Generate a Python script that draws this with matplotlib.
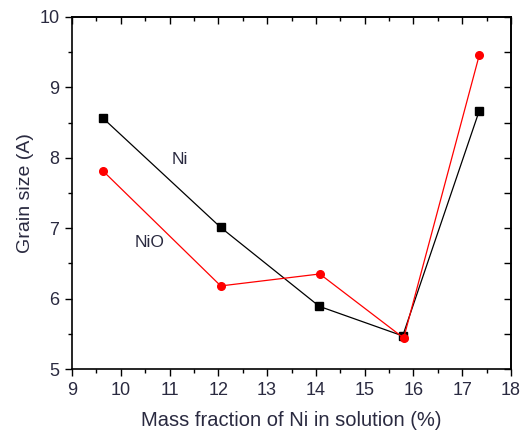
import matplotlib.pyplot as plt
from matplotlib.ticker import MultipleLocator

plt.rcParams['font.family'] = ['Liberation Sans', 'DejaVu Sans']

# data
x_ni = [9.64, 12.05, 14.07, 15.78, 17.35]
y_ni = [8.56, 7.01, 5.89, 5.47, 8.67]
x_nio = [9.64, 12.05, 14.08, 15.80, 17.35]
y_nio = [7.81, 6.18, 6.35, 5.44, 9.46]

txt = '#2a2a40'

fig = plt.figure(figsize=(5.22, 4.36), dpi=100)
ax = fig.add_axes([72/522, 1-369/436, (511-72)/522, (369-17)/436])

ax.plot(x_ni, y_ni, '-s', color='black', lw=0.9, ms=5.5, mfc='black', mec='black', zorder=2)
ax.plot(x_nio, y_nio, '-o', color='red', lw=0.9, ms=5.5, mfc='red', mec='red', zorder=3)

ax.text(11.21, 7.97, 'Ni', fontsize=12.5, color=txt, ha='center', va='center')
ax.text(10.6, 6.80, 'NiO', fontsize=12.5, color=txt, ha='center', va='center')

ax.set_xlim(9, 18)
ax.set_ylim(5, 10)
ax.xaxis.set_major_locator(MultipleLocator(1))
ax.xaxis.set_minor_locator(MultipleLocator(0.5))
ax.yaxis.set_major_locator(MultipleLocator(1))
ax.yaxis.set_minor_locator(MultipleLocator(0.5))

ax.tick_params(which='both', direction='out', top=False, right=False,
               labelsize=13, labelcolor=txt, width=1, pad=4)
ax.tick_params(which='major', length=5)
ax.tick_params(which='minor', length=3)

# inward ticks on top and right
ax2 = ax.secondary_xaxis('top')
ax2.xaxis.set_major_locator(MultipleLocator(1))
ax2.xaxis.set_minor_locator(MultipleLocator(0.5))
ax2.tick_params(which='both', direction='in', labeltop=False, width=1)
ax2.tick_params(which='major', length=5)
ax2.tick_params(which='minor', length=3)
ay2 = ax.secondary_yaxis('right')
ay2.yaxis.set_major_locator(MultipleLocator(1))
ay2.yaxis.set_minor_locator(MultipleLocator(0.5))
ay2.tick_params(which='both', direction='in', labelright=False, width=1)
ay2.tick_params(which='major', length=5)
ay2.tick_params(which='minor', length=5)

for s in ax.spines.values():
    s.set_linewidth(1.2)
ax2.spines['top'].set_linewidth(1.2)
ay2.spines['right'].set_linewidth(1.2)

ax.set_xlabel('Mass fraction of Ni in solution (%)', fontsize=14.5, color=txt, labelpad=9)
ax.set_ylabel('Grain size (A)', fontsize=14, color=txt, labelpad=4)

fig.savefig('out.png', dpi=100)
